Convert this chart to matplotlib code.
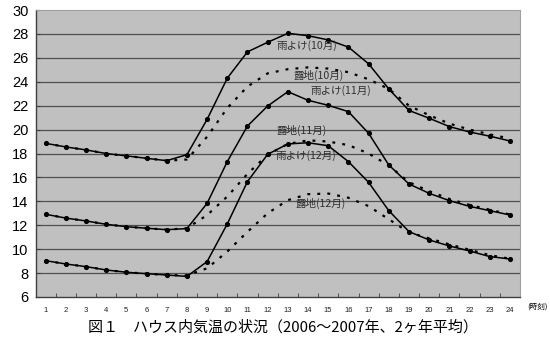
import matplotlib
matplotlib.use("Agg")
import matplotlib.pyplot as plt
from matplotlib.ticker import FixedLocator

plt.rcParams['font.family'] = ['Noto Sans CJK JP', 'DejaVu Sans']

hours = list(range(1, 25))
hour_labels = [str(h) for h in hours]

ameyoke_oct = [18.85, 18.55, 18.3, 18.0, 17.8, 17.6, 17.4, 17.9, 20.85, 24.3, 26.5, 27.3,
               28.05, 27.85, 27.5, 26.9, 25.5, 23.4, 21.6, 20.95, 20.25, 19.8, 19.45, 19.05]
roji_oct = [18.85, 18.55, 18.3, 18.0, 17.8, 17.6, 17.4, 17.5, 19.4, 21.8, 23.6, 24.7,
            25.05, 25.2, 25.1, 24.8, 24.2, 23.4, 22.0, 21.2, 20.5, 20.0, 19.6, 19.25]
ameyoke_nov = [12.92, 12.6, 12.36, 12.08, 11.88, 11.75, 11.63, 11.72, 13.83, 17.32, 20.3, 21.97,
               23.17, 22.45, 22.03, 21.5, 19.69, 17.04, 15.45, 14.67, 14.06, 13.58, 13.22, 12.86]
roji_nov = [12.92, 12.6, 12.36, 12.08, 11.88, 11.75, 11.63, 11.75, 12.85, 14.4, 16.3, 17.9,
            18.8, 19.1, 19.0, 18.7, 18.0, 17.0, 15.6, 14.85, 14.2, 13.7, 13.3, 12.9]
ameyoke_dec = [9.04, 8.76, 8.54, 8.26, 8.07, 7.95, 7.84, 7.72, 8.96, 12.11, 15.65, 17.93,
               18.8, 18.9, 18.65, 17.32, 15.59, 13.22, 11.47, 10.77, 10.27, 9.85, 9.38, 9.18]
roji_dec = [9.04, 8.76, 8.54, 8.26, 8.07, 7.95, 7.84, 7.8, 8.4, 9.8, 11.45, 13.0,
            14.1, 14.6, 14.65, 14.3, 13.6, 12.5, 11.4, 10.9, 10.4, 9.95, 9.5, 9.2]

series_labels = ['雨よけ(10月)', '露地(10月)', '雨よけ(11月)', '露地(11月)', '雨よけ(12月)', '露地(12月)']
title_text = '図１　ハウス内気温の状況（2006～2007年、2ヶ年平均）'
unit_text = '(時刻)'
yticks = [6, 8, 10, 12, 14, 16, 18, 20, 22, 24, 26, 28, 30]

fig = plt.figure(figsize=(5.5, 3.44), dpi=100)
ax = fig.add_axes([35.5/550, 47/344, (520-35.5)/550, (297-10)/344])
ax.set_facecolor('#C0C0C0')

for y in yticks[1:-1]:
    ax.axhline(y, color='#505050', lw=0.9, zorder=1)

solid_kw = dict(color='black', lw=1.1, marker='o', ms=2.7, zorder=3)
dot_kw = dict(color='black', lw=1.6, linestyle=(0, (1.3, 3.2)), zorder=2)

ax.plot(hours, roji_oct, **dot_kw)
ax.plot(hours, roji_nov, **dot_kw)
ax.plot(hours, roji_dec, **dot_kw)
ax.plot(hours, ameyoke_oct, **solid_kw)
ax.plot(hours, ameyoke_nov, **solid_kw)
ax.plot(hours, ameyoke_dec, **solid_kw)

label_pos = [(13.95, 27.0), (14.5, 24.5), (15.6, 23.3), (13.7, 19.9), (13.9, 17.85), (14.6, 13.85)]
for (lx, ly), txt in zip(label_pos, series_labels):
    ax.text(lx, ly, txt, fontsize=7.6, color='#303030', ha='center', va='center', zorder=4)

ax.set_xlim(0.5, 24.5)
ax.set_ylim(6, 30)
ax.set_yticks(yticks)
ax.set_yticklabels([str(v) for v in yticks], fontsize=10.5, family=['Liberation Sans', 'DejaVu Sans'])
ax.set_xticks(hours)
ax.set_xticklabels(hour_labels, fontsize=5.5, color='#202020', family=['Liberation Sans', 'DejaVu Sans'])
ax.tick_params(axis='x', which='major', length=0, pad=7)
ax.xaxis.set_minor_locator(FixedLocator([h + 0.5 for h in hours[:-1]]))
ax.tick_params(axis='x', which='minor', length=3, direction='in', color='#404040')
ax.tick_params(axis='y', which='major', length=3, direction='in', pad=5, color='#404040')

for side in ['left', 'bottom']:
    ax.spines[side].set_color('#404040')
    ax.spines[side].set_linewidth(1.0)
for side in ['top', 'right']:
    ax.spines[side].set_color('#A0A0A0')
    ax.spines[side].set_linewidth(0.8)

fig.text(537/550, 1 - 307/344, unit_text, fontsize=5.5, ha='center', va='center')
fig.text(283/550, 1 - 327/344, title_text, fontsize=10.8, ha='center', va='center')

fig.savefig('out.png', dpi=100)
